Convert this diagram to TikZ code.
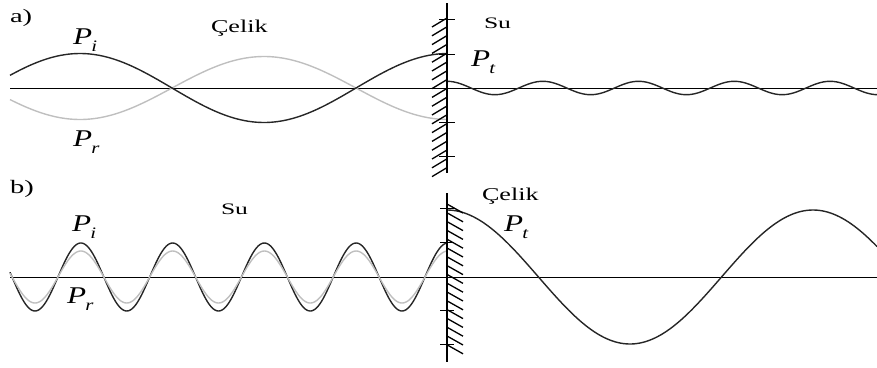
\documentclass[tikz,border=0pt]{standalone}
\usepackage{fontspec}
\setmainfont{Liberation Serif}
\newcommand{\psub}[1]{\scalebox{1.3}[1]{\itshape P\kern-0.5pt\raisebox{-0.3em}{\fontsize{16}{16}\selectfont #1}}}
\begin{document}
\begin{tikzpicture}[x=1pt,y=-1pt,
  curveblack/.style={line width=1.4pt,black!85},
  curvegray/.style={line width=1.4pt,color=black!25},
  axisline/.style={line width=1pt,black},
  wallline/.style={line width=1.4pt,black},
  hatchline/.style={line width=1.3pt,black},
  tickline/.style={line width=1pt,black},
  lbl/.style={anchor=base west,inner sep=0pt,outer sep=0pt},
  biglbl/.style={lbl,font=\fontsize{18}{18}\selectfont},
  smalllbl/.style={lbl,font=\fontsize{16}{16}\selectfont},
  plbl/.style={lbl,font=\fontsize{24}{24}\selectfont}]
\useasboundingbox (0,0) rectangle (877,367);
% ---------- panel a ----------
\draw[axisline] (10,88) -- (877,88);
\draw[curvegray] plot[domain=10:447,samples=120,smooth] (\x,{88+31.5*cos((\x-80)/368*360)});
\draw[curveblack] plot[domain=10:447,samples=120,smooth] (\x,{88-34.5*cos((\x-80)/368*360)});
\draw[curveblack] plot[domain=447:877,samples=200,smooth] (\x,{88-6.7*cos((\x-447)/95.75*360)});
\draw[wallline] (447,3) -- (447,173);
\foreach \k in {0,...,17} \draw[hatchline] (432,{18+8.8*\k+9}) -- (447,{18+8.8*\k});
\foreach \yy in {19,54,88,122,156} \draw[tickline] (439,\yy) -- (455,\yy);
\node[lbl,font=\fontsize{19}{19}\selectfont] (la) at (10,22) {\scalebox{1.5}[1]{a)}};
\node[biglbl] (steelA) at (211,32) {\scalebox{1.45}[1]{Çelik}};
\node[smalllbl] (waterA) at (484,28) {\scalebox{1.6}[1]{Su}};
\node[plbl] (piA) at (73,44) {\psub{i}};
\node[plbl] (prA) at (73,146) {\psub{r}};
\node[plbl] (ptA) at (471,66) {\psub{t}};
% ---------- panel b ----------
\draw[axisline] (10,277) -- (877,277);
\draw[curveblack] plot[domain=10:447,samples=300,smooth] (\x,{277+34*cos((\x-35)/91.75*360)});
\draw[curvegray] plot[domain=10:447,samples=300,smooth] (\x,{277+26*cos((\x-35)/91.75*360)});
\draw[curveblack] plot[domain=447:877,samples=150,smooth] (\x,{277-67*cos((\x-447)/366*360)});
\draw[wallline] (447,193) -- (447,362);
\foreach \k in {0,...,16} \draw[hatchline] (447,{204+8.8*\k}) -- (463,{204+8.8*\k+9});
\foreach \yy in {208,242,277,310,344} \draw[tickline] (440,\yy) -- (454,\yy);
\node[lbl,font=\fontsize{19}{19}\selectfont] (lb) at (10,193) {\scalebox{1.5}[1]{b)}};
\node[smalllbl] (waterB) at (221,214) {\scalebox{1.6}[1]{Su}};
\node[biglbl] (steelB) at (482,200) {\scalebox{1.45}[1]{Çelik}};
\node[plbl] (piB) at (72,231) {\psub{i}};
\node[plbl] (prB) at (67,303) {\psub{r}};
\node[plbl] (ptB) at (504,231) {\psub{t}};
\end{tikzpicture}
\end{document}
